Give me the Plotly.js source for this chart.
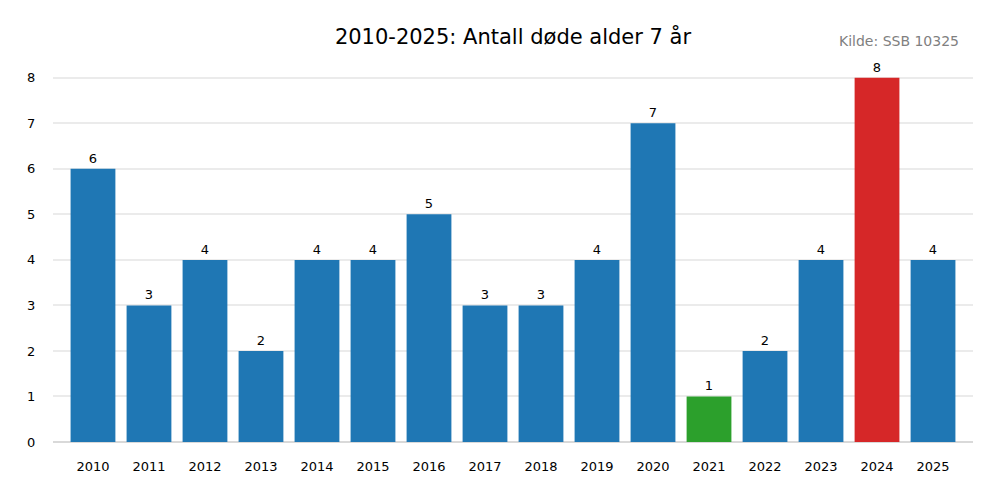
<!DOCTYPE html>
<html>
<head>
<meta charset="utf-8">
<script src="https://cdn.plot.ly/plotly-3.0.1.min.js"></script>
<style>html,body{margin:0;padding:0;background:#fff;}#chart{width:1000px;height:500px;}</style>
</head>
<body>
<div id="chart"></div>
<script>
const years = ["2010","2011","2012","2013","2014","2015","2016","2017","2018","2019","2020","2021","2022","2023","2024","2025"];
const deaths = [6,3,4,2,4,4,5,3,3,4,7,1,2,4,8,4];
const barColors = ["#1f77b4","#1f77b4","#1f77b4","#1f77b4","#1f77b4","#1f77b4","#1f77b4","#1f77b4","#1f77b4","#1f77b4","#1f77b4","#2ca02c","#1f77b4","#1f77b4","#d62728","#1f77b4"];
const yTicks = [0,1,2,3,4,5,6,7,8];

const font = "DejaVu Sans, sans-serif";
const trace = {
  type: "bar",
  x: years,
  y: deaths,
  marker: {color: barColors, line: {width: 0}},
  width: 0.8,
  text: deaths.map(String),
  textposition: "outside",
  textfont: {family: font, size: 13, color: "#000"},
  constraintext: "none",
  cliponaxis: false,
  hoverinfo: "x+y"
};
const layout = {
  width: 1000, height: 500,
  margin: {l: 53, r: 27, t: 55, b: 58},
  paper_bgcolor: "#fff", plot_bgcolor: "#fff",
  font: {family: font, size: 13, color: "#000"},
  showlegend: false,
  title: {text: "2010-2025: Antall døde alder 7 år", font: {family: font, size: 21, color: "#000"},
    x: 0.5, xanchor: "center", y: 0.926, yanchor: "middle", xref: "paper", yref: "container"},
  xaxis: {type: "category", range: [-0.714, 15.714], showgrid: false, zeroline: false, showline: false,
    ticks: "outside", ticklen: 12, tickcolor: "rgba(0,0,0,0)", tickfont: {family: font, size: 13, color: "#000"}, fixedrange: true},
  yaxis: {range: [0, 8.5], tickvals: yTicks, ticktext: yTicks.map(String), showgrid: true, gridcolor: "#ebebeb", gridwidth: 2,
    zeroline: true, zerolinecolor: "#d9d9d9", zerolinewidth: 2.5, showline: false,
    ticks: "outside", ticklen: 14, tickcolor: "rgba(0,0,0,0)", tickfont: {family: font, size: 13, color: "#000"}, fixedrange: true},
  annotations: [{text: "Kilde: SSB 10325", xref: "paper", yref: "paper", x: 0.987, y: 1.035, xanchor: "right", yanchor: "middle",
    showarrow: false, font: {family: font, size: 14, color: "#808080"}}]
};
Plotly.newPlot("chart", [trace], layout, {displayModeBar: false, staticPlot: true});
</script>
</body>
</html>
